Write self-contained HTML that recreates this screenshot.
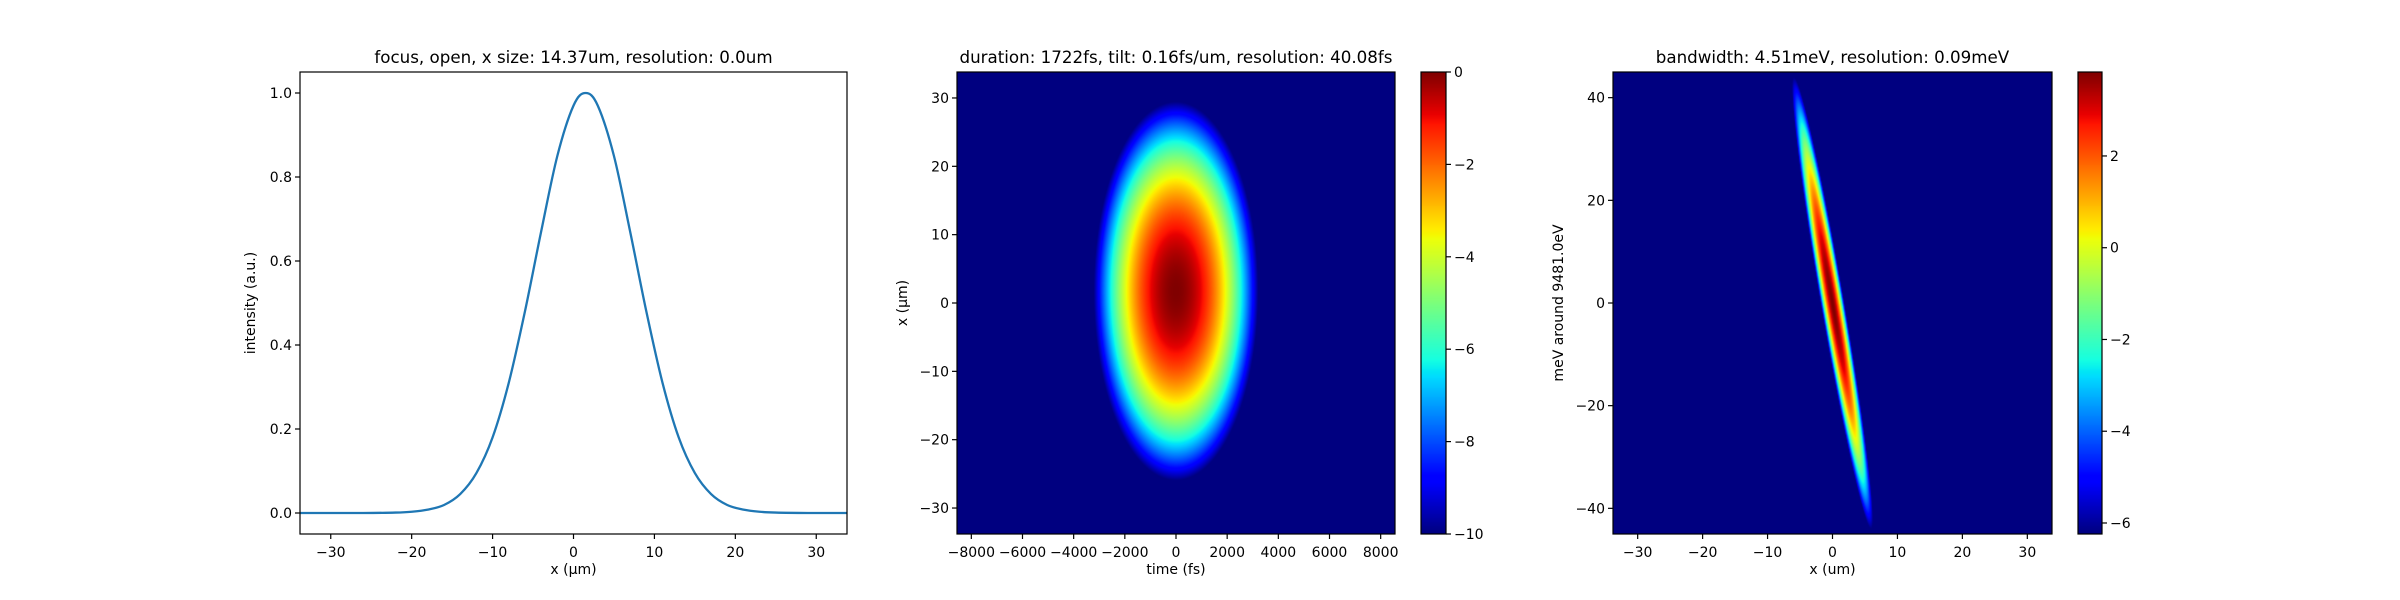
<!DOCTYPE html>
<html><head><meta charset="utf-8">
<style>
body{margin:0;background:#fff;}
#wrap{position:relative;width:2400px;height:600px;overflow:hidden;font-family:"Liberation Sans","DejaVu Sans",sans-serif;}
canvas{position:absolute;}
svg{position:absolute;left:0;top:0;}
svg text{font-family:"DejaVu Sans","Liberation Sans",sans-serif;fill:#000;}
</style></head>
<body>
<div id="wrap">
<canvas id="hm2" style="left:957px;top:72px" width="438" height="462"></canvas>
<canvas id="cb2" style="left:1421px;top:72px" width="25" height="462"></canvas>
<canvas id="hm3" style="left:1613px;top:72px" width="439" height="462"></canvas>
<canvas id="cb3" style="left:2078px;top:72px" width="24" height="462"></canvas>
<svg id="svg" width="2400" height="600"></svg>
</div>
<script>
// Panel 1 data
const p1X = [-34,-30,-26,-22,-20,-18,-16,-14,-12,-10,-8,-6,-4,-2,0,1.5,3,5,7,9,11,13,15,17,19,21,23,25,29,34];
const p1Y = [0,0,0,0.001,0.003,0.008,0.019,0.045,0.095,0.18,0.31,0.48,0.67,0.85,0.97,1.0,0.97,0.85,0.67,0.48,0.31,0.18,0.095,0.045,0.019,0.008,0.003,0.001,0,0];
const p1XTicks = [-30,-20,-10,0,10,20,30];
const p1YTicks = [0.0,0.2,0.4,0.6,0.8,1.0];
// Panel 2 (log intensity ellipse) parameters
const p2Center = [0, 1.75];
const p2HalfExtent = [3215, 27.7];
const p2Range = [-10, 0];
const p2XTicks = [-8000,-6000,-4000,-2000,0,2000,4000,6000,8000];
const p2YTicks = [-30,-20,-10,0,10,20,30];
const cb2Ticks = [0,-2,-4,-6,-8,-10];
// Panel 3 (tilted streak) parameters
const p3Peak = [3.83];
const p3Slope = [-0.135];
const p3Decay = [0.0052, 3.0];
const p3Range = [-6.24, 3.83];
const p3XTicks = [-30,-20,-10,0,10,20,30];
const p3YTicks = [-40,-20,0,20,40];
const cb3Ticks = [2,0,-2,-4,-6];

const NS='http://www.w3.org/2000/svg';
const svg=document.getElementById('svg');
function mk(tag,attrs,parent){const e=document.createElementNS(NS,tag);for(const k in attrs)e.setAttribute(k,attrs[k]);(parent||svg).appendChild(e);return e;}
function lin(d0,d1,r0,r1){return v=>r0+(v-d0)/(d1-d0)*(r1-r0);}
function fmt(v,dec){const s=v.toFixed(dec);return s.replace('-','\u2212');}

function jet(t){
  t=Math.max(0,Math.min(1,t));
  function pw(pts){for(let i=1;i<pts.length;i++){if(t<=pts[i][0]){const a=pts[i-1],b=pts[i];return a[1]+(t-a[0])/(b[0]-a[0])*(b[1]-a[1]);}}return pts[pts.length-1][1];}
  return [pw([[0,0],[0.35,0],[0.66,1],[0.89,1],[1,0.5]]),pw([[0,0],[0.125,0],[0.375,1],[0.64,1],[0.91,0],[1,0]]),pw([[0,0.5],[0.11,1],[0.34,1],[0.65,0],[1,0]])].map(c=>Math.round(c*255));
}

function axesFrame(name,L,T,R,B,sx,sy,xt,yt,xdec,ydec,title,xlabel,ylabel,ylabX){
  const g=mk('g',{});
  
  
  xt.forEach(v=>{const x=sx(v);
    const tk=mk('line',{x1:x,x2:x,y1:B,y2:B+5,stroke:'#000','stroke-width':1.2},g);
    
    const t=mk('text',{x:x,y:B+23,'font-size':14,'text-anchor':'middle'},g);t.textContent=fmt(v,xdec);
    });
  yt.forEach(v=>{const y=sy(v);
    const tk=mk('line',{x1:L-5,x2:L,y1:y,y2:y,stroke:'#000','stroke-width':1.2},g);
    
    const t=mk('text',{x:L-8,y:y+5,'font-size':14,'text-anchor':'end'},g);t.textContent=fmt(v,ydec);
    });
  const fr=mk('rect',{x:L,y:T,width:R-L,height:B-T,fill:'none',stroke:'#000','stroke-width':1.2},g);
  
  const ti=mk('text',{x:(L+R)/2,y:63,'font-size':16.7,'text-anchor':'middle'},g);ti.textContent=title;
  
  const xl=mk('text',{x:(L+R)/2,y:574,'font-size':14,'text-anchor':'middle'},g);xl.textContent=xlabel;
  
  const yl=mk('text',{x:0,y:0,'font-size':14,'text-anchor':'middle',transform:`translate(${ylabX},${(T+B)/2}) rotate(-90)`},g);yl.textContent=ylabel;
  
}

// Panel 1
(function(){
  const L=300,T=72,R=847,B=534;
  const sx=lin(-33.8,33.8,L,R), sy=lin(-0.05,1.05,B,T);
  const pts=p1X.map((x,i)=>[sx(x),sy(p1Y[i])]);
  let d=`M${pts[0][0]},${pts[0][1]}`;
  for(let i=0;i<pts.length-1;i++){
    const p0=pts[Math.max(0,i-1)],p1=pts[i],p2=pts[i+1],p3=pts[Math.min(pts.length-1,i+2)];
    const c1=[p1[0]+(p2[0]-p0[0])/6,p1[1]+(p2[1]-p0[1])/6];
    const c2=[p2[0]-(p3[0]-p1[0])/6,p2[1]-(p3[1]-p1[1])/6];
    d+=` C${c1[0]},${c1[1]} ${c2[0]},${c2[1]} ${p2[0]},${p2[1]}`;
  }
  const clip=mk('clipPath',{id:'c1'});mk('rect',{x:L,y:T,width:R-L,height:B-T},clip);
  const path=mk('path',{d:d,fill:'none',stroke:'#1f77b4','stroke-width':2.3,'clip-path':'url(#c1)'});
  
  
  axesFrame('focus-panel',L,T,R,B,sx,sy,p1XTicks,p1YTicks,0,1,'focus, open, x size: 14.37um, resolution: 0.0um','x (\u03bcm)','intensity (a.u.)',255);
})();

function drawCbar(id,vmin,vmax){
  const c=document.getElementById(id),ctx=c.getContext('2d');
  for(let y=0;y<c.height;y++){const v=vmax-(y/(c.height-1))*(vmax-vmin);const col=jet((v-vmin)/(vmax-vmin));ctx.fillStyle=`rgb(${col})`;ctx.fillRect(0,y,c.width,1);}
}
function cbarAxis(name,L,R,T,B,vmin,vmax,ticks){
  const g=mk('g',{});
  
  
  const sy=lin(vmin,vmax,B,T);
  ticks.forEach(v=>{const y=sy(v);
    mk('line',{x1:R,x2:R+5,y1:y,y2:y,stroke:'#000','stroke-width':1.2},g);
    const t=mk('text',{x:R+8,y:y+5,'font-size':14},g);t.textContent=fmt(v,0);
    });
  mk('rect',{x:L,y:T,width:R-L,height:B-T,fill:'none',stroke:'#000','stroke-width':1.2},g);
}

// Panel 2
(function(){
  const L=957,T=72,R=1395,B=534;
  const sx=lin(-8560,8560,L,R), sy=lin(-33.8,33.8,B,T);
  const c=document.getElementById('hm2'),ctx=c.getContext('2d');
  const img=ctx.createImageData(c.width,c.height);
  for(let j=0;j<c.height;j++){const xv=33.8-(j+0.5)/c.height*67.6;
    for(let i=0;i<c.width;i++){const tv=-8560+(i+0.5)/c.width*17120;
      const r=((tv-p2Center[0])/p2HalfExtent[0])**2+((xv-p2Center[1])/p2HalfExtent[1])**2;
      let v=p2Range[1]+(p2Range[0]-p2Range[1])*r; v=Math.max(p2Range[0],v);
      const col=jet((v-p2Range[0])/(p2Range[1]-p2Range[0]));const k=(j*c.width+i)*4;
      img.data[k]=col[0];img.data[k+1]=col[1];img.data[k+2]=col[2];img.data[k+3]=255;}}
  ctx.putImageData(img,0,0);
  axesFrame('duration-panel',L,T,R,B,sx,sy,p2XTicks,p2YTicks,0,0,'duration: 1722fs, tilt: 0.16fs/um, resolution: 40.08fs','time (fs)','x (\u03bcm)',907);
  drawCbar('cb2',p2Range[0],p2Range[1]);
  cbarAxis('colorbar-duration-axis',1421,1446,72,534,p2Range[0],p2Range[1],cb2Ticks);
})();

// Panel 3
(function(){
  const L=1613,T=72,R=2052,B=534;
  const sx=lin(-33.8,33.8,L,R), sy=lin(-45,45,B,T);
  const c=document.getElementById('hm3'),ctx=c.getContext('2d');
  const img=ctx.createImageData(c.width,c.height);
  for(let j=0;j<c.height;j++){const E=45-(j+0.5)/c.height*90;
    for(let i=0;i<c.width;i++){const xv=-33.8+(i+0.5)/c.width*67.6;
      const dx=xv-p3Slope[0]*E;
      let v=p3Peak[0]-p3Decay[0]*E*E-p3Decay[1]*dx*dx; v=Math.max(p3Range[0],v);
      const col=jet((v-p3Range[0])/(p3Range[1]-p3Range[0]));const k=(j*c.width+i)*4;
      img.data[k]=col[0];img.data[k+1]=col[1];img.data[k+2]=col[2];img.data[k+3]=255;}}
  ctx.putImageData(img,0,0);
  axesFrame('bandwidth-panel',L,T,R,B,sx,sy,p3XTicks,p3YTicks,0,0,'bandwidth: 4.51meV, resolution: 0.09meV','x (um)','meV around 9481.0eV',1563);
  drawCbar('cb3',p3Range[0],p3Range[1]);
  cbarAxis('colorbar-bandwidth-axis',2078,2102,72,534,p3Range[0],p3Range[1],cb3Ticks);
})();
</script>
</body></html>
